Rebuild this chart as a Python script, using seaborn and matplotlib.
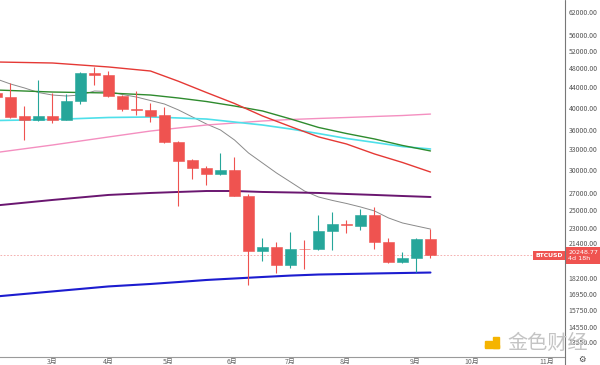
import numpy as np
import pandas as pd
import matplotlib
matplotlib.use("Agg")
import matplotlib.pyplot as plt
import matplotlib.patches as mpatches
from matplotlib.lines import Line2D
from matplotlib.ticker import FixedLocator, NullLocator, FuncFormatter
from matplotlib.transforms import blended_transform_factory
import seaborn as sns

# weekly candles (index -1 is the partly hidden one on the left edge)
week = list(range(-1, 31))
opens = [42800, 42000, 38500, 37800, 38500, 37800, 41230, 46900, 46480, 42190, 39740,
         39560, 38650, 34130, 31415, 30280, 29450, 30000, 26610, 20650, 21040, 19370,
         20890, 20870, 22650, 23390, 23210, 24380, 21530, 19610, 19990, 21830]
highs = [43000, 44800, 40300, 45400, 42800, 42580, 47120, 48220, 47350, 42380, 43170,
         40850, 40100, 34290, 31560, 30560, 32440, 31850, 26860, 21930, 21530, 22545,
         21730, 24380, 24720, 23830, 25070, 25300, 21930, 20560, 21880, 22860]
lows = [41800, 38100, 34450, 37600, 37250, 37750, 40660, 44390, 42000, 39380, 38650,
        37430, 33980, 25410, 28780, 28000, 29320, 26610, 17660, 19730, 18660, 19100,
        19010, 20750, 20750, 22440, 22750, 20850, 19540, 19540, 18750, 20000]
closes = [42000, 38300, 37800, 38500, 37800, 41230, 46910, 46480, 42190, 39740, 39560,
          38470, 34130, 31270, 30280, 29450, 30000, 26670, 20650, 21040, 19370, 20850,
          20800, 22620, 23390, 23230, 24380, 21560, 19610, 19970, 21830, 20248.77]

last_price = 20248.77

# short moving average (one value per week)
ma_short = [45630, 44590, 43780, 42870, 42380, 42190, 42380, 43170, 43070, 42480, 41990,
            41320, 40660, 39560, 38300, 37080, 36070, 34450, 32450, 30985, 29590, 28390,
            27230, 26490, 26070, 25710, 25300, 24840, 24050, 23500, 23170, 22850]

# slower averages, read every few weeks
ma_week = [-1, 3, 7, 10, 12, 14, 16, 18, 20, 22, 24, 26, 28, 30]
ma_red = [49350, 49120, 48230, 47340, 45150, 42870, 40760, 38480, 36650, 34945, 33820, 32300, 31055, 29720]
ma_green = [43370, 42970, 42780, 42380, 41800, 41130, 40290, 39380, 37960, 36500, 35490, 34610, 33590, 32750]
ma_cyan = [37680, 37860, 38210, 38300, 38130, 37940, 37420, 36910, 36240, 35490, 34690, 34060, 33420, 33050]
ma_pink = [32520, 33660, 34930, 35900, 36410, 36910, 37250, 37600, 37860, 38040, 38210, 38390, 38560, 38820]
ma_purple = [25480, 26130, 26740, 26985, 27110, 27230, 27230, 27110, 27050, 26985, 26860, 26740, 26610, 26490]
ma_blue = [16750, 17140, 17540, 17740, 17900, 18070, 18195, 18320, 18440, 18530, 18575, 18620, 18660, 18700]

price_ticks = [62000, 56000, 52000, 48000, 44000, 40000, 36000, 33000, 30000, 27000,
               25000, 23000, 21400, 18200, 16950, 15750, 14550, 13550]
month_labels = ["3月", "4月", "5月", "6月", "7月", "8月", "9月", "10月", "11月"]
month_pos = [2.96, 6.96, 11.25, 15.82, 19.96, 23.9, 28.9, 32.96, 38.3]

UP = "#26a69a"
DOWN = "#ef5350"

sns.set_theme(style="white")
plt.rcParams["font.family"] = ["Noto Sans CJK SC", "DejaVu Sans"]

fig = plt.figure(figsize=(6, 3.65), dpi=100)
ax = fig.add_axes([0, 8 / 365, 565 / 600, 357 / 365])
ax.set_yscale("log")

# moving averages
df_short = pd.DataFrame({"week": week, "price": ma_short})
sns.lineplot(data=df_short, x="week", y="price", ax=ax, color="#8a8a8a", linewidth=0.7)
for vals, col, lw in [(ma_pink, "#f48fc0", 1.0), (ma_cyan, "#4fe0ea", 1.2),
                      (ma_green, "#2e8b2e", 1.0), (ma_red, "#e53935", 1.0),
                      (ma_purple, "#6a1670", 1.4), (ma_blue, "#1c1ccf", 1.5)]:
    d = pd.DataFrame({"week": ma_week, "price": vals})
    sns.lineplot(data=d, x="week", y="price", ax=ax, color=col, linewidth=lw)

# candles
for w, o, h, l, c in zip(week, opens, highs, lows, closes):
    col = UP if c >= o else DOWN
    ax.vlines(w, l, h, color=col, linewidth=0.8, zorder=3)
    lo, hi = min(o, c), max(o, c)
    if hi / lo < 1.004:
        hi = lo * 1.004
    ax.bar(w, hi - lo, bottom=lo, width=0.72, color=col, edgecolor=col, linewidth=0.4, zorder=4)

# last price line and labels
ax.axhline(last_price, color="#f3a3a3", linestyle=(0, (2, 2)), linewidth=0.6, zorder=1)
tr = blended_transform_factory(ax.transAxes, ax.transData)
ax.text(0.996, last_price, "BTCUSD", transform=tr, ha="right", va="center",
        fontsize=4.4, color="white", family="DejaVu Sans", weight="bold",
        bbox=dict(boxstyle="square,pad=0.35", fc=DOWN, ec="none"), zorder=6)
ax.text(1.006, last_price, f"{last_price:.2f}\n4d 18h", transform=tr, ha="left", va="center",
        fontsize=4.6, color="white", family="DejaVu Sans", linespacing=1.2,
        bbox=dict(boxstyle="square,pad=0.5", fc=DOWN, ec="none"), zorder=6, clip_on=False)

ax.set_xlim(-0.75, 39.61)
ax.set_ylim(12670, 65670)

ax.yaxis.tick_right()
ax.yaxis.set_major_locator(FixedLocator(price_ticks))
ax.yaxis.set_minor_locator(NullLocator())
ax.yaxis.set_major_formatter(FuncFormatter(lambda v, p: f"{v:.2f}"))
ax.set_xticks(month_pos)
ax.set_xticklabels(month_labels)
ax.tick_params(axis="y", length=0, pad=2.5, labelsize=5, labelcolor="#555555")
ax.tick_params(axis="x", length=0, pad=1, labelsize=5, labelcolor="#666666")
ax.set_xlabel("")
ax.set_ylabel("")

for s in ["top", "left"]:
    ax.spines[s].set_visible(False)
ax.spines["bottom"].set_color("#9a9a9a")
ax.spines["bottom"].set_linewidth(0.8)
ax.spines["right"].set_visible(False)
fig.add_artist(Line2D([565 / 600, 565 / 600], [0, 1], color="#777777", linewidth=0.8,
                      transform=fig.transFigure))

# watermark
fig.add_artist(mpatches.Rectangle((485 / 600, 18 / 365), 7 / 600, 6 / 365,
                                  transform=fig.transFigure, color="#f5b400", zorder=10))
fig.add_artist(mpatches.Rectangle((493 / 600, 17 / 365), 6 / 600, 11 / 365,
                                  transform=fig.transFigure, color="#f5b400", zorder=10))
fig.add_artist(mpatches.Rectangle((485 / 600, 17 / 365), 14 / 600, 3 / 365,
                                  transform=fig.transFigure, color="#f5b400", zorder=10))
fig.text(507 / 600, 22 / 365, "金色财经", fontsize=14.5, color="#c4c4c4",
         family=["Noto Sans CJK SC"], va="center", ha="left", zorder=10)
fig.text(582 / 600, 6 / 365, "⚙", fontsize=6, color="#444444", family=["DejaVu Sans"],
         ha="center", va="center")

fig.savefig("out.png", dpi=100, facecolor="white")
